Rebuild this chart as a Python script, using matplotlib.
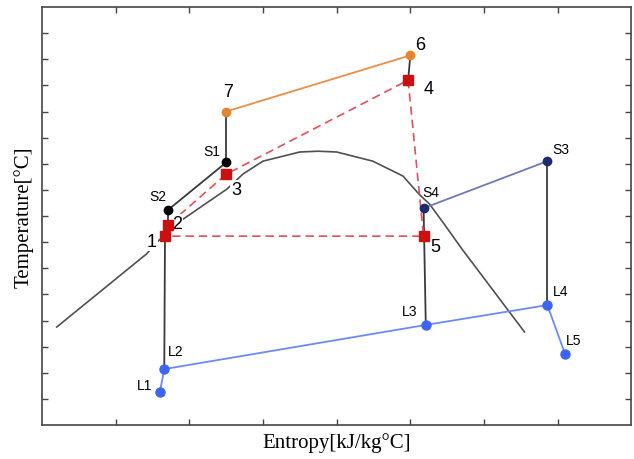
import matplotlib
matplotlib.use('Agg')
import matplotlib.pyplot as plt

plt.rcParams['font.family'] = 'Liberation Sans'

# state points (entropy, temperature), arbitrary units
pts = {
    '7': (2.50, 12.0), '6': (5.00, 14.15),
    'S1': (2.50, 10.05), 'S2': (1.71, 8.23),
    '1': (1.67, 7.23), '2': (1.71, 7.65), '3': (2.50, 9.60),
    '4': (4.97, 13.20), '5': (5.18, 7.23),
    'S3': (6.86, 10.10), 'S4': (5.18, 8.30),
    'L1': (1.60, 1.26), 'L2': (1.66, 2.14), 'L3': (5.21, 3.83),
    'L4': (6.86, 4.59), 'L5': (7.10, 2.72),
}

# saturation dome
dome_s = [0.20, 1.42, 1.56, 1.90, 2.51, 2.73, 3.00, 3.50, 3.75, 4.00,
          4.49, 4.90, 5.13, 5.26, 5.46, 5.70, 6.55]
dome_t = [3.75, 6.55, 7.00, 7.85, 9.03, 9.61, 10.10, 10.45, 10.48, 10.45,
          10.10, 9.53, 8.80, 8.46, 7.69, 6.74, 3.56]

cycle = ['1', '2', '3', '4', '5', '1']
liquid = ['L1', 'L2', 'L3', 'L4', 'L5']

# label offsets in pixels
big_labels = {'7': (2, 20), '6': (10, 11), '4': (21, -8), '3': (10, -15),
              '2': (9, 2), '1': (-13, -5), '5': (12, -10)}
small_labels = {'S1': (-14, 11), 'S2': (-10, 14), 'S3': (13, 12), 'S4': (7, 16),
                'L1': (-15, 7), 'L2': (11, 18), 'L3': (-16, 14), 'L4': (13, 14),
                'L5': (9, 14)}


def xy(names):
    return [pts[n][0] for n in names], [pts[n][1] for n in names]


fig = plt.figure(figsize=(6.34, 4.6), dpi=100)
ax = fig.add_axes([0.0662, 0.0739, 0.9296, 0.9087])

dark = '#3a3a3a'
ax.plot(dome_s, dome_t, color='#505050', lw=1.2, zorder=1)

for a, b in [('7', 'S1'), ('S1', 'S2'), ('S2', '2'), ('1', 'L2'), ('6', '4'),
             ('S4', 'L3'), ('S3', 'L4')]:
    xs, ys = xy([a, b])
    ax.plot(xs, ys, color=dark, lw=1.3, zorder=2)

xs, ys = xy(['7', '6'])
ax.plot(xs, ys, color='#e8904a', lw=1.3, zorder=2)
ax.plot(xs, ys, 'o', color='#e8832f', ms=6, zorder=5)

xs, ys = xy(cycle)
ax.plot(xs, ys, color='#e0505c', lw=1.2, ls=(0, (5, 3)), zorder=3)
ax.plot(xs[:-1], ys[:-1], 's', color='#cc1010', ms=6.5, zorder=5)

xs, ys = xy(['S4', 'S3'])
ax.plot(xs, ys, color='#6f78b8', lw=1.3, zorder=2)
ax.plot(xs, ys, 'o', color='#1c2a6e', ms=6, zorder=5)

xs, ys = xy(['S1', 'S2'])
ax.plot(xs, ys, 'o', color='black', ms=6, zorder=5)

xs, ys = xy(liquid)
ax.plot(xs, ys, color='#6b8af5', lw=1.3, zorder=3)
ax.plot(xs, ys, 'o', color='#3d64f5', ms=6.5, zorder=5)

for name, off in big_labels.items():
    ax.annotate(name, pts[name], xytext=off, textcoords='offset pixels',
                ha='center', va='center', fontsize=13, zorder=4,
                bbox=dict(boxstyle='square,pad=0.05', fc='white', ec='none'))
for name, off in small_labels.items():
    ax.annotate(name, pts[name], xytext=off, textcoords='offset pixels',
                ha='center', va='center', fontsize=10, zorder=4)

ax.set_xlim(0, 8)
ax.set_ylim(0, 16)
ax.set_xticks(range(1, 8))
ax.set_yticks(range(1, 16))
ax.tick_params(direction='in', length=4, width=1, color='#444444',
               top=True, right=True, labelleft=False, labelbottom=False)
for sp in ax.spines.values():
    sp.set_color('#444444')
    sp.set_linewidth(1.2)

ax.set_xlabel('Entropy[kJ/kg°C]', family='Liberation Serif', fontsize=15, labelpad=5)
ax.set_ylabel('Temperature[°C]', family='Liberation Serif', fontsize=15, labelpad=6)

fig.savefig('out.png', dpi=100)
